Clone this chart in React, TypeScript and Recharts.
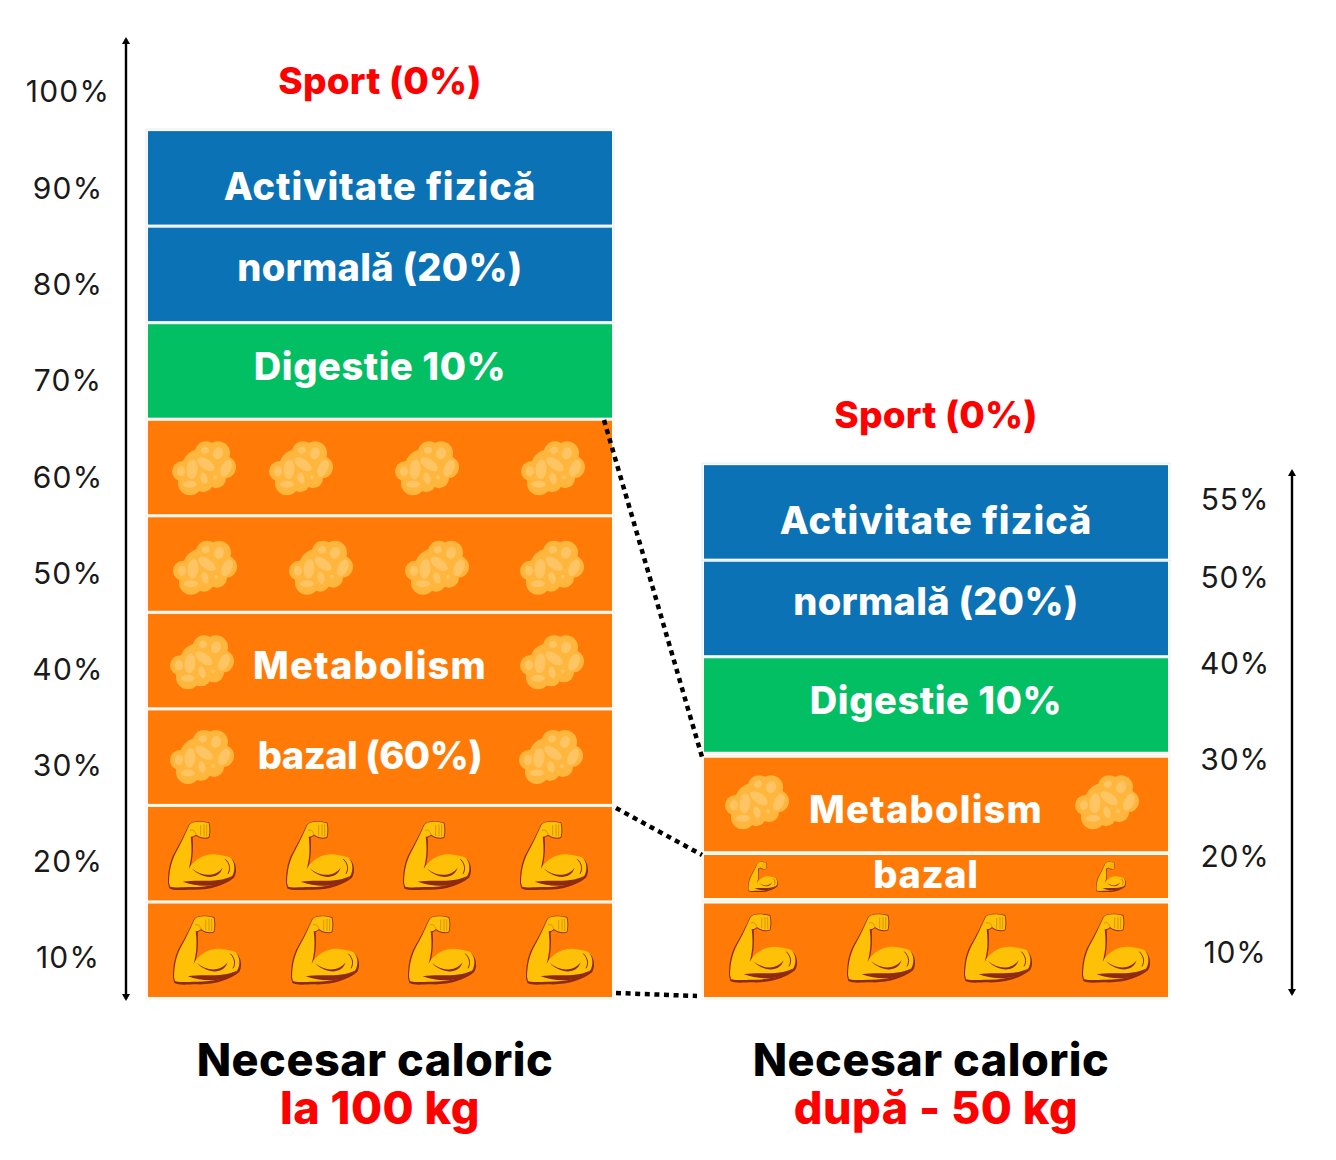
import React from 'react';
import { BarChart, Bar, XAxis, YAxis, ReferenceLine } from 'recharts';

const barCenters = [380, 936];
const leftSegments = [10, 10, 10, 10, 10, 10, 10, 10, 10, 10];
const rightSegments = [10, 5.1, 10.3, 10, 10, 10, 10];
const segmentKinds = [
  ['muscle', 'muscle', 'fat', 'fat', 'fat', 'fat', 'digest', 'activity', 'activity', 'sport'],
  ['muscle', 'smallMuscle', 'fat', 'digest', 'activity', 'activity', 'sport'],
];
const leftTexts = ['', '', 'bazal (60%)', 'Metabolism', '', '', 'Digestie 10%', 'normală (20%)', 'Activitate fizică', 'Sport (0%)'];
const rightTexts = ['', 'bazal', 'Metabolism', 'Digestie 10%', 'normală (20%)', 'Activitate fizică', 'Sport (0%)'];
const titlesTop = ['Necesar caloric', 'Necesar caloric'];
const titlesBottom = ['la 100 kg', 'după - 50 kg'];
const leftTickLabels = ['10%', '20%', '30%', '40%', '50%', '60%', '70%', '80%', '90%', '100%'];
const leftTickPlaces = [4.1, 14.1, 24.0, 34.0, 43.9, 53.9, 63.9, 73.8, 83.8, 93.8];
const rightTickLabels = ['10%', '20%', '30%', '40%', '50%', '55%'];
const rightTickPlaces = [4.7, 14.6, 24.6, 34.6, 43.5, 51.6];

const FONT = 'Inter, sans-serif';
const UNIT = 9.655;
const kindFill: Record<string, string> = {
  muscle: '#FF7A07',
  smallMuscle: '#FF7A07',
  fat: '#FF7A07',
  digest: '#02BF63',
  activity: '#0A72B5',
};

// icon offsets from the bar's left edge and the segment's bottom edge
const iconsAt: Record<string, { dx: number; dy: number }[]> = {
  '0-0': [25, 143, 260, 378].map((dx) => ({ dx, dy: -82 })),
  '0-1': [20, 138, 255, 372].map((dx) => ({ dx, dy: -80 })),
  '0-2': [22, 371].map((dx) => ({ dx, dy: -74 })),
  '0-3': [22, 372].map((dx) => ({ dx, dy: -72 })),
  '0-4': [25, 141, 257, 372].map((dx) => ({ dx, dy: -70 })),
  '0-5': [24, 121, 247, 373].map((dx) => ({ dx, dy: -73 })),
  '1-0': [25, 143, 260, 378].map((dx) => ({ dx, dy: -84 })),
  '1-1': [44, 392].map((dx) => ({ dx, dy: -39 })),
  '1-2': [21, 371].map((dx) => ({ dx, dy: -76 })),
};
const textShift: Record<string, { dx: number; baseline: number; spacing: number }> = {
  Sport: { dx: 0, baseline: -34, spacing: 0.2 },
  Activitate: { dx: 0, baseline: -25, spacing: 0.9 },
  normală: { dx: 0, baseline: -40, spacing: 0.3 },
  Digestie: { dx: 0, baseline: -38, spacing: 0.55 },
  Metabolism: { dx: -10, baseline: -28, spacing: 1.2 },
  bazal: { dx: -10, baseline: -35, spacing: -0.5 },
};

const Muscle = ({ x, y, s = 1 }: { x: number; y: number; s?: number }) => (
  <g transform={`translate(${x} ${y}) scale(${s / 3})`}>
    <path
      d="M0 188 C0 150 6 120 20 96 C36 68 48 44 62 14 C70 0 96 0 124 6 C128 20 128 38 124 52 C112 58 96 54 84 46 L74 52 C76 80 76 110 66 146 C82 118 112 102 146 106 C160 108 178 110 192 116 C206 130 208 156 198 172 C168 196 124 210 70 208 C44 208 18 212 4 204 Z"
      fill="#8E2A12"
    />
    <path
      d="M3 186 C4 150 10 122 24 96 C40 68 50 44 64 14 C72 2 96 2 122 8 C125 20 125 38 122 50 C112 54 96 52 84 42 C78 48 70 50 68 48 C72 80 72 112 62 146 C78 116 112 98 146 102 C160 104 176 106 188 112 C200 124 204 150 192 168 C164 190 122 200 72 200 C44 200 18 204 6 198 Z"
      fill="#FFC107"
    />
    <path d="M44 184 C90 176 150 190 194 166 C160 200 100 204 44 184 Z" fill="#8E2A12" />
    <path d="M72 144 C100 168 140 172 164 142 C150 184 96 172 72 144 Z" fill="#8E2A12" />
    <path d="M172 116 C186 130 188 146 180 160" fill="none" stroke="#8E2A12" strokeWidth={3} />
    <path d="M84 42 C80 32 76 26 66 30 M98 14 L98 46 M108 12 L108 48 M116 12 L116 48" fill="none" stroke="#C97F12" strokeWidth={2} />
  </g>
);

const blobOuter = [
  [34, 11, 11], [46, 12, 12], [53, 26, 11], [44, 37, 10], [31, 41, 10], [18, 42, 12], [10, 30, 10], [28, 26, 18], [18, 32, 14], [38, 26, 18],
];
const blobInner = [
  [34, 23, 10, 5, 35], [20, 28, 5.5, 10, 5], [9, 30, 4, 5, 0], [18, 43, 7, 3.5, 0], [32, 37, 3.5, 6, -15], [46, 12, 5, 6, 20], [33, 9, 4, 3.5, -20], [54, 27, 5, 9, 25], [43, 36, 2, 2, 0],
];
const Fat = ({ x, y, s = 1 }: { x: number; y: number; s?: number }) => (
  <g transform={`translate(${x} ${y}) scale(${s})`}>
    {blobOuter.map(([cx, cy, r], i) => (
      <circle key={i} cx={cx} cy={cy} r={r} fill="#FFB63C" />
    ))}
    {blobInner.map(([cx, cy, rx, ry, a], i) => (
      <ellipse key={i} cx={cx} cy={cy} rx={rx} ry={ry} fill="#FFC463" transform={`rotate(${a} ${cx} ${cy})`} />
    ))}
  </g>
);

const Segment = (props: any) => {
  const { x, y, width, height, index, seg } = props;
  const kind = segmentKinds[index][seg];
  const label = (index === 0 ? leftTexts : rightTexts)[seg];
  if (!kind || !height) return null;
  const bottom = y + height;
  const isSport = kind === 'sport';
  const small = kind === 'smallMuscle';
  const fillTop = small ? y + 3.8 : bottom - 93.5;
  const fillH = small ? 43 : 93.5;
  const shift = label ? textShift[label.split(' ')[0]] : null;
  const baseline = small ? -12 : shift?.baseline ?? 0;
  return (
    <g>
      {!isSport && (
        <rect x={x - 2} y={fillTop - 2} width={width + 4} height={fillH + 4} fill="#fff" stroke={kind === 'activity' ? '#E4EEF4' : '#FBEFE4'} strokeWidth={1} />
      )}
      {!isSport && <rect x={x} y={fillTop} width={width} height={fillH} fill={kindFill[kind]} />}
      {(iconsAt[`${index}-${seg}`] || []).map((ic, i) =>
        kind === 'fat' ? (
          <Fat key={i} x={x + ic.dx} y={bottom + ic.dy} />
        ) : (
          <Muscle key={i} x={x + ic.dx} y={bottom + ic.dy} s={small ? 0.44 : 1} />
        ),
      )}
      {label && shift && (
        <text
          x={x + width / 2 + shift.dx}
          y={bottom + baseline}
          textAnchor="middle"
          fontFamily={FONT}
          fontWeight={800}
          fontSize={isSport ? 37 : 38}
          letterSpacing={small ? 0.7 : shift.spacing}
          fill={isSport ? '#FF0000' : '#fff'}
        >
          {label}
        </text>
      )}
    </g>
  );
};

const chartData = barCenters.map((center, b) => {
  const row: Record<string, number | null> = { center };
  leftSegments.forEach((_, s) => {
    row[`s${s}`] = (b === 0 ? leftSegments : rightSegments)[s] ?? null;
  });
  return row;
});

const Arrow = ({ x1, y1, x2, y2 }: any) => {
  const top = Math.min(y1, y2);
  const bot = Math.max(y1, y2);
  return (
    <g fill="#000">
      <line x1={x1} x2={x2} y1={y1} y2={y2} stroke="#000" strokeWidth={2.4} />
      <polygon points={`${x1 - 4},${top + 5} ${x1},${top - 2} ${x1 + 4},${top + 5}`} />
      <polygon points={`${x1 - 4},${bot - 5} ${x1},${bot + 2} ${x1 + 4},${bot - 5}`} />
    </g>
  );
};

const axisTick = (cx: number, labels: string[], places: number[], spacing: number) => (p: any) => (
  <text x={cx} y={p.y} dy={11} textAnchor="middle" fontFamily={FONT} fontSize={30} letterSpacing={spacing} fill="#1a1a1a">
    {labels[places.indexOf(p.payload.value)]}
  </text>
);

const TitleTick = (p: any) => {
  const i = barCenters.indexOf(p.payload.value);
  return (
    <text textAnchor="middle" fontFamily={FONT} fontWeight={800} fontSize={45} letterSpacing={0.5}>
      <tspan x={p.x - 5} y={1076} fill="#000">
        {titlesTop[i]}
      </tspan>
      <tspan x={p.x} y={1124} fill="#FF0000">
        {titlesBottom[i]}
      </tspan>
    </text>
  );
};

const val = (py: number) => (997 - py) / UNIT;
const connectors = [
  [604, val(420), 702, val(757)],
  [616, val(808), 702, val(855)],
  [616, val(993), 697, val(996)],
];

const App = () => {
  return (
    <div style={{ position: 'absolute', left: 0, top: 0, width: 1336, height: 1160, background: '#fff' }}>
      <BarChart
        width={1336}
        height={1160}
        data={chartData}
        barSize={464}
        margin={{ top: 31.5, right: 0, bottom: 0, left: 0 }}
      >
        <XAxis
          dataKey="center"
          type="number"
          domain={[126, 1292]}
          ticks={barCenters}
          height={153.345}
          axisLine={false}
          tickLine={false}
          tick={TitleTick}
          interval={0}
        />
        <YAxis
          yAxisId="left"
          width={126}
          domain={[-1, 100]}
          allowDataOverflow
          ticks={leftTickPlaces}
          axisLine={false}
          tickLine={false}
          interval={0}
          tick={axisTick(68, leftTickLabels, leftTickPlaces, 1.2)}
        />
        <YAxis
          yAxisId="right"
          orientation="right"
          width={44}
          domain={[-1, 100]}
          allowDataOverflow
          ticks={rightTickPlaces}
          axisLine={false}
          tickLine={false}
          interval={0}
          tick={axisTick(1235, rightTickLabels, rightTickPlaces, 0.8)}
        />
        {leftSegments.map((_, s) => (
          <Bar
            key={s}
            yAxisId="left"
            dataKey={`s${s}`}
            stackId="need"
            isAnimationActive={false}
            shape={(p: any) => <Segment {...p} seg={s} />}
          />
        ))}
        <ReferenceLine
          yAxisId="left"
          segment={[{ x: 126, y: val(39) }, { x: 126, y: val(999) }]}
          shape={Arrow}
        />
        <ReferenceLine
          yAxisId="left"
          segment={[{ x: 1292, y: val(471) }, { x: 1292, y: val(994) }]}
          shape={Arrow}
        />
        {connectors.map(([x1, y1, x2, y2], i) => (
          <ReferenceLine
            key={i}
            yAxisId="left"
            segment={[{ x: x1, y: y1 }, { x: x2, y: y2 }]}
            stroke="#000"
            strokeWidth={4.5}
            strokeDasharray="5 4.6"
          />
        ))}
      </BarChart>
    </div>
  );
};

export default App;
